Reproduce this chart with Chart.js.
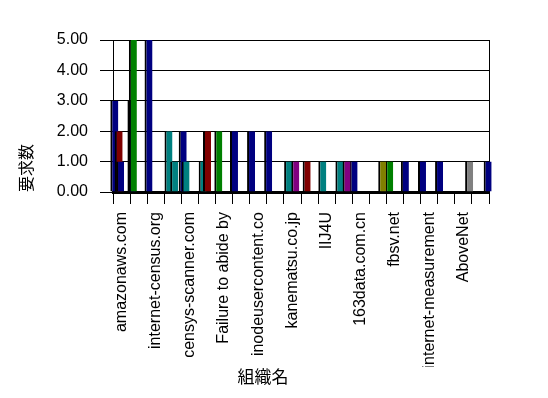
<!DOCTYPE html>
<html>
<head>
<meta charset="utf-8">
<script src="https://cdn.jsdelivr.net/npm/chart.js@4.4.1/dist/chart.umd.min.js"></script>
<style>
  html, body { margin: 0; padding: 0; background: #fff; }
  #wrap { position: relative; width: 548px; height: 398px; }
</style>
</head>
<body>
<div id="wrap"><canvas id="chart"></canvas></div>
<script>
const NAVY   = '#000080';
const MAROON = '#800000';
const GREEN  = '#008000';
const TEAL   = '#008080';
const PURPLE = '#800080';
const OLIVE  = '#808000';
const GRAY   = '#808080';
const INK    = '#000000';

// 22 organisations, only every other name is printed on the axis
const orgs = ['amazonaws.com', '', 'internet-census.org', '', 'censys-scanner.com', '',
              'Failure to abide by', '', 'inodeusercontent.co', '', 'kanematsu.co.jp', '',
              'IIJ4U', '', '163data.com.cn', '', 'fbsv.net', '', 'internet-measurement', '',
              'AboveNet', ''];

const yTicks = [0, 1, 2, 3, 4, 5];

const s1  = [3,3,5,0,2,0,0,2,2,2,0,0,0,0,1,0,0,1,1,1,0,0];
const s2  = [0,5,0,0,0,0,2,0,0,0,0,0,0,0,0,0,1,0,0,0,0,0];
const s3  = [0,0,0,2,1,1,0,0,0,0,1,0,1,1,0,0,0,0,0,0,0,0];
const s4  = [2,0,0,0,0,0,0,0,0,0,0,1,0,0,0,0,0,0,0,0,0,0];
const s5  = [1,0,0,0,0,0,0,0,0,0,0,0,0,0,0,0,0,0,0,0,0,0];
const s6  = [0,0,0,0,0,2,0,0,0,0,0,0,0,0,0,0,0,0,0,0,0,0];
const s7  = [0,0,0,1,0,0,0,0,0,0,0,0,0,0,0,0,0,0,0,0,0,0];
const s8  = [0,0,0,0,0,0,0,0,0,0,1,0,0,1,0,0,0,0,0,0,0,0];
const s9  = [0,0,0,0,0,0,0,0,0,0,0,0,0,0,0,1,0,0,0,0,0,0];
const s10 = [0,0,0,0,0,0,0,0,0,0,0,0,0,0,0,0,0,0,0,0,1,0];
const s11 = [0,0,0,0,0,0,0,0,0,0,0,0,0,0,0,0,0,0,0,0,0,1];

const seriesData   = [s1, s2, s3, s4, s5, s6, s7, s8, s9, s10, s11];
const seriesColors = [NAVY, GREEN, TEAL, MAROON, NAVY, MAROON, TEAL, PURPLE, OLIVE, GRAY, NAVY];

Chart.defaults.font.family = 'Arial, "Liberation Sans", sans-serif';
Chart.defaults.color = INK;

// draw series back to front so later ones overlap earlier ones
const frontLast = {
  id: 'frontLast',
  beforeDatasetsDraw(chart) {
    chart.data.datasets.forEach((d, i) => chart.getDatasetMeta(i).controller.draw());
    return false;
  }
};

new Chart(document.getElementById('chart'), {
  type: 'bar',
  data: {
    labels: orgs,
    datasets: seriesData.map((d, i) => ({
      label: '系列' + (i + 1),
      data: d,
      backgroundColor: seriesColors[i],
      borderColor: INK,
      borderWidth: { left: 2, top: 0, right: 0, bottom: 0 },
      borderSkipped: false,
      categoryPercentage: 0.927,
      barPercentage: 5.56
    }))
  },
  options: {
    responsive: true,
    maintainAspectRatio: false,
    animation: false,
    layout: { padding: { left: 12, right: 34, top: 40, bottom: 11 } },
    plugins: {
      legend: { display: false },
      tooltip: { enabled: false },
      title: {
        display: true, position: 'bottom', text: '組織名', color: INK, padding: 0,
        font: { family: '"Noto Sans CJK JP"', size: 17, weight: 'normal' }
      }
    },
    scales: {
      x: {
        ticks: { autoSkip: false, minRotation: 90, maxRotation: 90, padding: 8, font: { size: 16 } },
        grid: { drawOnChartArea: false, tickLength: 12, color: INK, offset: true },
        border: { color: INK, width: 3 },
        afterFit: s => { s.height = 174.6; }
      },
      y: {
        min: yTicks[0], max: yTicks[yTicks.length - 1],
        afterBuildTicks: s => { s.ticks = yTicks.map(v => ({ value: v })); },
        ticks: { padding: 12, font: { size: 16 }, callback: v => v.toFixed(2) },
        grid: { color: INK, tickLength: 13 },
        border: { color: INK },
        title: {
          display: true, text: '要求数', align: 'start', color: INK,
          font: { family: '"Noto Sans CJK JP"', size: 16 },
          padding: { top: 4, bottom: 21 }
        },
        afterFit: s => { s.width = 101; }
      },
      y2: {
        position: 'right', min: 0, max: 5,
        ticks: { display: false },
        grid: { drawOnChartArea: false, drawTicks: false },
        border: { color: INK },
        afterFit: s => { s.width = 25; }
      }
    }
  },
  plugins: [frontLast]
});
</script>
</body>
</html>
